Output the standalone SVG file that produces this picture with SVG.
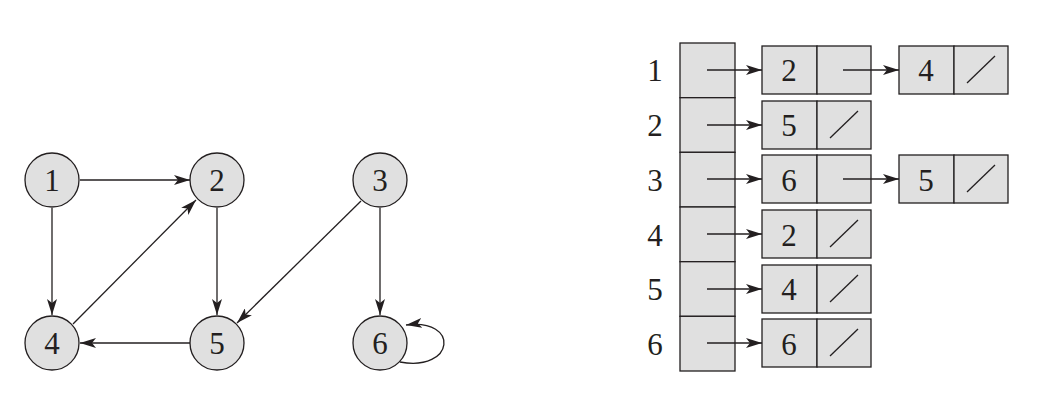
<svg xmlns="http://www.w3.org/2000/svg" width="1038" height="410" viewBox="0 0 1038 410">
<style>
.n{fill:#e0e0e0;stroke:#231f20;stroke-width:1.3}
.t{font-family:"Liberation Serif",serif;font-size:31px;fill:#231f20;text-anchor:middle}
.e{fill:none;stroke:#231f20;stroke-width:1.3}
</style>
<defs>
<marker id="a" viewBox="0 0 16 10" refX="16" refY="5" markerWidth="16" markerHeight="10" markerUnits="userSpaceOnUse" orient="auto">
<path d="M0,0 L16,5 L0,10 L4,5 Z" fill="#231f20"/>
</marker>
</defs>
<g id="g1"><circle class="n" cx="52" cy="180" r="27"/><text class="t" x="52" y="191">1</text></g>
<g id="g2"><circle class="n" cx="217" cy="180" r="27"/><text class="t" x="217" y="191">2</text></g>
<g id="g3"><circle class="n" cx="380" cy="180" r="27"/><text class="t" x="380" y="191">3</text></g>
<g id="g4"><circle class="n" cx="52" cy="343" r="27"/><text class="t" x="52" y="354">4</text></g>
<g id="g5"><circle class="n" cx="217" cy="343" r="27"/><text class="t" x="217" y="354">5</text></g>
<g id="g6"><circle class="n" cx="380" cy="343" r="27"/><text class="t" x="380" y="354">6</text></g>
<g id="edges" class="e" marker-end="url(#a)">
<line x1="80" y1="180" x2="190" y2="180"/>
<line x1="52" y1="208" x2="52" y2="315"/>
<line x1="73" y1="324" x2="196" y2="200"/>
<line x1="217" y1="208" x2="217" y2="315"/>
<line x1="190" y1="343" x2="80" y2="343"/>
<line x1="361" y1="201" x2="237" y2="323"/>
<line x1="380" y1="208" x2="380" y2="315"/>
<path d="M400 362 C455 372 460 318 406 325"/>
</g>
<g id="labels">
<text class="t" x="655" y="81">1</text><text class="t" x="655" y="136">2</text><text class="t" x="655" y="191">3</text>
<text class="t" x="655" y="246">4</text><text class="t" x="655" y="300">5</text><text class="t" x="655" y="355">6</text>
</g>
<g id="array">
<rect class="n" x="680" y="43" width="55" height="54.7"/><rect class="n" x="680" y="97.7" width="55" height="54.7"/>
<rect class="n" x="680" y="152.3" width="55" height="54.7"/><rect class="n" x="680" y="207" width="55" height="54.7"/>
<rect class="n" x="680" y="261.7" width="55" height="54.7"/><rect class="n" x="680" y="316.3" width="55" height="54.7"/>
</g>
<g id="lists">
<g id="l1a"><rect class="n" x="762" y="46" width="55" height="48"/><rect class="n" x="817" y="46" width="54" height="48"/><text class="t" x="789" y="81">2</text></g>
<g id="l1b"><rect class="n" x="899" y="46" width="55" height="48"/><rect class="n" x="954" y="46" width="54" height="48"/><text class="t" x="926" y="81">4</text><line class="e" x1="967" y1="83" x2="995" y2="56"/></g>
<g id="l2"><rect class="n" x="762" y="101" width="55" height="48"/><rect class="n" x="817" y="101" width="54" height="48"/><text class="t" x="789" y="136">5</text><line class="e" x1="830" y1="138" x2="858" y2="111"/></g>
<g id="l3a"><rect class="n" x="762" y="155" width="55" height="48"/><rect class="n" x="817" y="155" width="54" height="48"/><text class="t" x="789" y="191">6</text></g>
<g id="l3b"><rect class="n" x="899" y="155" width="55" height="48"/><rect class="n" x="954" y="155" width="54" height="48"/><text class="t" x="926" y="191">5</text><line class="e" x1="967" y1="192" x2="995" y2="165"/></g>
<g id="l4"><rect class="n" x="762" y="210" width="55" height="48"/><rect class="n" x="817" y="210" width="54" height="48"/><text class="t" x="789" y="246">2</text><line class="e" x1="830" y1="247" x2="858" y2="220"/></g>
<g id="l5"><rect class="n" x="762" y="265" width="55" height="48"/><rect class="n" x="817" y="265" width="54" height="48"/><text class="t" x="789" y="300">4</text><line class="e" x1="830" y1="302" x2="858" y2="275"/></g>
<g id="l6"><rect class="n" x="762" y="319" width="55" height="48"/><rect class="n" x="817" y="319" width="54" height="48"/><text class="t" x="789" y="355">6</text><line class="e" x1="830" y1="356" x2="858" y2="329"/></g>
</g>
<g id="ptrs" class="e" marker-end="url(#a)">
<line x1="707" y1="70" x2="762" y2="70"/><line x1="843" y1="70" x2="899" y2="70"/>
<line x1="707" y1="125" x2="762" y2="125"/>
<line x1="707" y1="179" x2="762" y2="179"/><line x1="843" y1="179" x2="899" y2="179"/>
<line x1="707" y1="234" x2="762" y2="234"/>
<line x1="707" y1="289" x2="762" y2="289"/>
<line x1="707" y1="343" x2="762" y2="343"/>
</g>
</svg>
